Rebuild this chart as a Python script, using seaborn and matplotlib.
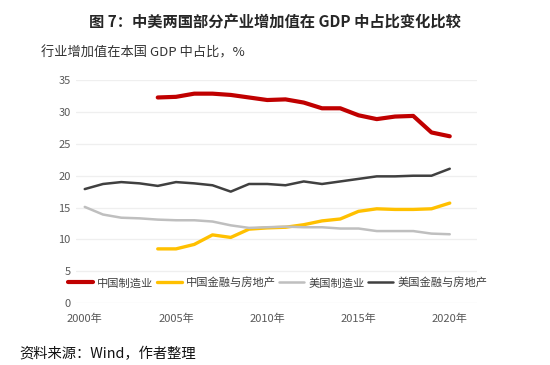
import numpy as np
import pandas as pd
import seaborn as sns
import matplotlib.pyplot as plt

# data (share of GDP, %)
years = list(range(2000, 2021))
cn_manu = [np.nan] * 4 + [32.3, 32.4, 32.9, 32.9, 32.7, 32.3, 31.9, 32.0, 31.5,
                          30.6, 30.6, 29.5, 28.9, 29.3, 29.4, 26.8, 26.2]
cn_fin = [np.nan] * 4 + [8.5, 8.5, 9.2, 10.7, 10.3, 11.6, 11.8, 11.9, 12.3,
                         12.9, 13.2, 14.4, 14.8, 14.7, 14.7, 14.8, 15.7]
us_manu = [15.1, 13.9, 13.4, 13.3, 13.1, 13.0, 13.0, 12.8, 12.2, 11.8, 11.9,
           12.0, 11.9, 11.9, 11.7, 11.7, 11.3, 11.3, 11.3, 10.9, 10.8]
us_fin = [17.9, 18.7, 19.0, 18.8, 18.4, 19.0, 18.8, 18.5, 17.5, 18.7, 18.7,
          18.5, 19.1, 18.7, 19.1, 19.5, 19.9, 19.9, 20.0, 20.0, 21.1]

series_names = ['中国制造业', '中国金融与房地产', '美国制造业', '美国金融与房地产']
series_vals = [cn_manu, cn_fin, us_manu, us_fin]
colors = ['#C00000', '#FFC000', '#BFBFBF', '#404040']
widths = [3.0, 2.4, 1.8, 1.8]

sns.set_style('white')
plt.rcParams['font.family'] = ['Noto Sans CJK SC', 'DejaVu Sans']

fig = plt.figure(figsize=(5.5, 3.65), dpi=100)
ax = fig.add_axes([0.1375, 0.170, 0.73, 0.61])

for name, vals, c, lw in zip(series_names, series_vals, colors, widths):
    df = pd.DataFrame({'year': years, 'value': vals}).dropna()
    sns.lineplot(data=df, x='year', y='value', ax=ax, color=c, linewidth=lw,
                 label=name, legend=False)

ax.set_xlim(1999.5, 2021.5)
ax.set_ylim(0, 35)
ax.set_yticks(range(0, 36, 5))
ax.set_xticks(range(2000, 2021, 5))
ax.set_xticklabels([f'{y}年' for y in range(2000, 2021, 5)])
ax.set_xlabel('')
ax.set_ylabel('')
ax.grid(axis='y', color='#EFEFEF', linewidth=0.9)
ax.grid(axis='x', visible=False)
ax.set_axisbelow(True)
for s in ax.spines.values():
    s.set_visible(False)
ax.tick_params(axis='both', length=0, labelsize=8, colors='#595959')
ax.tick_params(axis='x', pad=8)

handles, labels = ax.get_legend_handles_labels()
fig.legend(handles, labels, loc='center left', bbox_to_anchor=(0.105, 0.225),
           ncol=4, frameon=False, fontsize=8.1, handlelength=2.2,
           handletextpad=0.4, columnspacing=0.3, labelcolor='#404040')

fig.text(0.5, 0.94, '图 7：中美两国部分产业增加值在 GDP 中占比变化比较',
         ha='center', va='center', fontsize=11, fontweight='bold')
fig.text(0.075, 0.855, '行业增加值在本国 GDP 中占比，%', ha='left', va='center',
         fontsize=9.5, color='#333333')
fig.text(0.035, 0.03, '资料来源：Wind，作者整理', ha='left', va='center',
         fontsize=10.3, color='#111111')

fig.savefig('out.png', dpi=100)
